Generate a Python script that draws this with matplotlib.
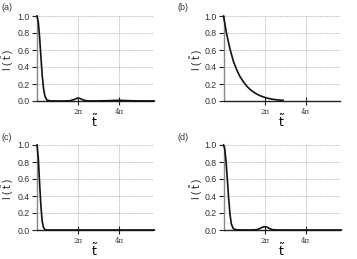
import numpy as np
import matplotlib
matplotlib.use("Agg")
import matplotlib.pyplot as plt

# ---- data ----
t_a = [0, 0.2, 0.4, 0.6, 0.8, 1.0, 1.2, 1.5, 2.0, 3.0, 4.0, 5.0, 5.5, 6.0, 6.28, 6.6, 7.0, 7.5, 8.0, 9.0, 10.0, 11.0, 12.0, 12.57, 13.0, 14.0, 15.0, 16.0, 18.0]
I_a = [1.0, 0.93, 0.75, 0.52, 0.3, 0.15, 0.06, 0.012, 0.002, 0.0, 0.0, 0.003, 0.012, 0.027, 0.035, 0.03, 0.015, 0.004, 0.001, 0.001, 0.002, 0.004, 0.007, 0.008, 0.007, 0.004, 0.002, 0.001, 0.001]

t_b = [0, 0.5, 1.0, 1.5, 2.0, 2.5, 3.0, 3.5, 4.0, 4.5, 5.0, 5.5, 6.0, 6.5, 7.0, 7.5, 8.0, 8.5, 9.1]
I_b = [1.0, 0.78, 0.61, 0.47, 0.37, 0.29, 0.23, 0.18, 0.14, 0.11, 0.085, 0.065, 0.05, 0.038, 0.028, 0.021, 0.015, 0.011, 0.008]

t_c = [0, 0.2, 0.4, 0.6, 0.8, 1.0, 1.2, 1.5, 18.0]
I_c = [1.0, 0.85, 0.55, 0.28, 0.1, 0.03, 0.005, 0.0, 0.0]

t_d = [0, 0.2, 0.4, 0.6, 0.8, 1.0, 1.2, 1.5, 2.0, 4.0, 5.0, 5.5, 6.0, 6.28, 6.6, 7.0, 7.5, 8.0, 10.0, 18.0]
I_d = [1.0, 0.95, 0.8, 0.58, 0.36, 0.18, 0.07, 0.015, 0.002, 0.0, 0.003, 0.015, 0.035, 0.04, 0.035, 0.018, 0.004, 0.001, 0.0, 0.0]

panel_labels = ["(a)", "(b)", "(c)", "(d)"]
y_ticks = [0.0, 0.2, 0.4, 0.6, 0.8, 1.0]
y_ticklabels = ["0.0", "0.2", "0.4", "0.6", "0.8", "1.0"]
x_ticks = [2 * np.pi, 4 * np.pi]
x_ticklabels = ["2\u03c0", "4\u03c0"]

series = [(t_a, I_a), (t_b, I_b), (t_c, I_c), (t_d, I_d)]

W, H = 357, 259
fig = plt.figure(figsize=(W / 100, H / 100), dpi=100)

# axes boxes in pixels: left, top, right, bottom
boxes = [(37, 16, 153, 101), (223.5, 16, 340, 101), (37, 145, 153, 230), (223.5, 145, 340, 230)]
label_x = [1, 178, 1, 178]
ylabel_x = [6, 195, 6, 195]

for (t, I), (l, tp, r, b), lab, lx, yx in zip(series, boxes, panel_labels, label_x, ylabel_x):
    ax = fig.add_axes([l / W, 1 - b / H, (r - l) / W, (b - tp) / H])
    ax.set_xlim(0, 17.8)
    ax.set_ylim(0, 1.0)
    ax.set_yticks(y_ticks)
    ax.set_yticklabels(y_ticklabels, fontsize=6.3, family="Liberation Sans", color="#333333")
    ax.set_xticks(x_ticks)
    ax.set_xticklabels(x_ticklabels, fontsize=5, family="DejaVu Serif", color="#333333")
    ax.tick_params(axis="y", direction="out", length=3.6, width=0.8, color="#222222", pad=1.5)
    ax.tick_params(axis="x", direction="inout", length=6, width=0.8, color="#222222", pad=2)
    ax.grid(True, linestyle=(0, (1.5, 1.0)), color="#a8a8a8", linewidth=0.5)
    ax.set_axisbelow(True)
    for s in ("top", "right"):
        ax.spines[s].set_visible(False)
    ax.spines["left"].set_color("#888888")
    ax.spines["left"].set_linewidth(1.0)
    ax.spines["bottom"].set_color("#222222")
    ax.spines["bottom"].set_linewidth(1.0)
    ax.plot(t, I, color="#111111", linewidth=1.2, clip_on=False, zorder=3)
    ax.set_xlabel(r"$\tilde{\mathrm{t}}$", fontsize=9, labelpad=-2)
    ax.set_ylabel(r"I ( $\tilde{\mathrm{t}}$ )", fontsize=7, family="Liberation Sans", color="#222222")
    ax.yaxis.set_label_coords((yx + 10 - l) / (r - l), 0.48)
    fig.text(lx / W, 1 - (tp - 8) / H, lab, fontsize=6.5, family="Liberation Sans",
             color="#333333", va="center", ha="left")

fig.savefig("out.png", dpi=100)
